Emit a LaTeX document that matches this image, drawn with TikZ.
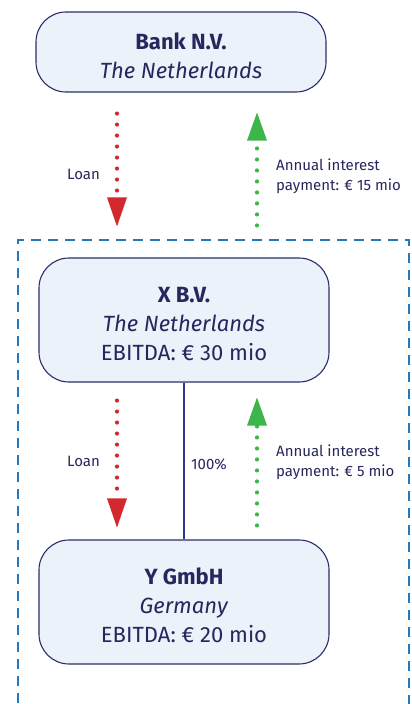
\documentclass[tikz,border=0pt]{standalone}
\usepackage{fontspec}
\setmainfont{Fira Sans}
\usetikzlibrary{arrows.meta,calc}
\definecolor{navy}{HTML}{27275E}
\definecolor{boxfill}{HTML}{EBF2FA}
\definecolor{boxline}{HTML}{2D2D6B}
\definecolor{loanred}{HTML}{D3282E}
\definecolor{paygreen}{HTML}{3CB54A}
\definecolor{groupblue}{HTML}{2479BD}
\definecolor{ownline}{HTML}{2B3A8C}
\newcommand{\entitystrut}{\rule{0pt}{24pt}}
\tikzset{
  entity/.style={draw=boxline, fill=boxfill, line width=1.1pt, rounded corners=30pt,
    minimum width=290pt, text=navy, align=center, font=\fontsize{22}{29}\selectfont},
  lbl/.style={text=navy, font=\fontsize{15}{20}\selectfont, align=left, inner sep=0pt},
  loanarrow/.style={draw=loanred, line width=4.2pt, line cap=round, dash pattern=on 0pt off 11pt,
    -{Triangle[width=20pt,length=29pt,line width=0pt,fill=loanred]}},
  payarrow/.style={draw=paygreen, line width=4.2pt, line cap=round, dash pattern=on 0pt off 11pt,
    -{Triangle[width=20pt,length=28pt,line width=0pt,fill=paygreen]}},
  group/.style={draw=groupblue, line width=2.4pt, dash pattern=on 10pt off 7pt},
}
\begin{document}
\begin{tikzpicture}[x=1pt,y=-1pt]
\useasboundingbox (0,0) rectangle (412,704);
% group boundary
\draw[group] (18,720) -- (18,240) -- (409,240) -- (409,720);
% boxes
\node[entity, minimum height=80pt] (bank) at (181,52) {\entitystrut\textbf{Bank N.V.}\\\textit{The Netherlands}};
\node[entity, minimum height=124pt] (xbv) at (184,320) {\entitystrut\textbf{X B.V.}\\\textit{The Netherlands}\\EBITDA: € 30 mio};
\node[entity, minimum height=124pt] (ygmbh) at (184,602) {\entitystrut\textbf{Y GmbH}\\\textit{Germany}\\EBITDA: € 20 mio};
% columns for arrows
\coordinate (rc) at (117,0);
\coordinate (gc) at (257,0);
% ownership
\draw[ownline, line width=2pt] (xbv.south) -- (ygmbh.north);
\node[lbl, anchor=west] (pct) at (191,464) {100\%};
% arrows bank <-> X
\draw[loanarrow, shorten <=21pt, shorten >=31pt] (bank.south -| rc) -- (xbv.north -| rc);
\draw[payarrow, shorten <=32pt, shorten >=20pt] (xbv.north -| gc) -- (bank.south -| gc);
\node[lbl, anchor=east] (loan1) at (100,174) {Loan};
\node[lbl, anchor=west] (int1) at (276,176) {Annual interest\\payment: € 15 mio};
% arrows X <-> Y
\draw[loanarrow, shorten <=18pt, shorten >=12pt] (xbv.south -| rc) -- (ygmbh.north -| rc);
\draw[payarrow, shorten <=14pt, shorten >=15pt] (ygmbh.north -| gc) -- (xbv.south -| gc);
\node[lbl, anchor=east] (loan2) at (100,461) {Loan};
\node[lbl, anchor=west] (int2) at (276,462) {Annual interest\\payment: € 5 mio};
\end{tikzpicture}
\end{document}
